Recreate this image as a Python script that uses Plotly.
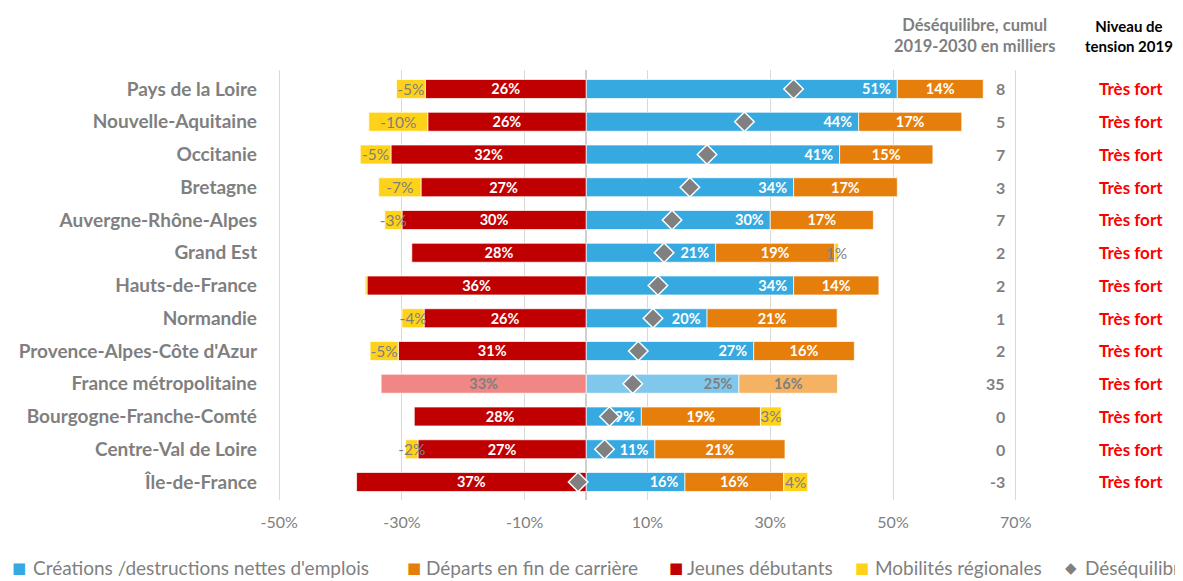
import plotly.graph_objects as go

regions = ["Pays de la Loire", "Nouvelle-Aquitaine", "Occitanie", "Bretagne",
           "Auvergne-Rhône-Alpes", "Grand Est", "Hauts-de-France", "Normandie",
           "Provence-Alpes-Côte d'Azur", "France métropolitaine",
           "Bourgogne-Franche-Comté", "Centre-Val de Loire", "Île-de-France"]
creations = [50.7, 44.4, 41.3, 33.8, 30.0, 21.1, 33.8, 19.7, 27.3, 24.9, 9.0, 11.2, 16.1]
departs = [14.0, 16.8, 15.2, 16.9, 16.8, 19.4, 13.9, 21.2, 16.4, 16.1, 19.4, 21.2, 16.1]
jeunes = [-26.2, -25.8, -31.8, -26.9, -30.0, -28.4, -35.7, -26.4, -30.6, -33.4, -28.0, -27.4, -37.4]
mobilites = [-4.7, -9.6, -5.0, -6.9, -2.8, 0.6, -0.3, -3.6, -4.6, 0.0, 3.4, -2.0, 3.9]
desequilibre_milliers = ["8", "5", "7", "3", "7", "2", "2", "1", "2", "35", "0", "0", "-3"]
tension = ["Très fort"] * 13
x_ticks = [-50, -30, -10, 10, 30, 50, 70]
x_ticktext = ["-50%", "-30%", "-10%", "10%", "30%", "50%", "70%"]

FONT = "Lato"
GRAY = "#7f7f7f"
FR = "France métropolitaine"

C_BLUE, C_ORANGE, C_RED, C_YELLOW, C_DIAM = "#36A9E1", "#E67E0B", "#C00000", "#FFD21A", "#808080"

desequilibre_pct = [c + d + j + m for c, d, j, m in zip(creations, departs, jeunes, mobilites)]

# page offset (body margin) and target plot area in screen pixels
OFF = 8
W, H = 1183 - OFF, 581 - OFF
L, R, T, B = 278 - OFF, 1017 - OFF, 70 - OFF, 500 - OFF


def px_x(p):
    return (p - OFF - L) / (R - L)


def px_y(p):
    return (B - (p - OFF)) / (B - T)


def colors(base, light):
    return [light if r == FR else base for r in regions]


def txtcol(base):
    return [GRAY if r == FR else base for r in regions]


fig = go.Figure()
bar_common = dict(orientation="h", y=regions, textposition="inside", textangle=0,
                  constraintext="none",
                  marker_line=dict(color="rgba(255,255,255,0.7)", width=1),
                  showlegend=False)

fig.add_trace(go.Bar(
    name="Créations /destructions nettes d'emplois", x=creations,
    text=[f"{v:.0f}%\u00a0" for v in creations], insidetextanchor="end",
    marker_color=colors(C_BLUE, "#80C7EC"),
    textfont=dict(color=txtcol("white"), family=FONT, size=14.5, weight="bold"),
    **bar_common))
fig.add_trace(go.Bar(
    name="Départs en fin de carrière", x=departs,
    text=[f"{v:.0f}%" for v in departs], insidetextanchor="middle",
    marker_color=colors(C_ORANGE, "#F5B263"),
    textfont=dict(color=txtcol("white"), family=FONT, size=14.5, weight="bold"),
    **bar_common))
fig.add_trace(go.Bar(
    name="Jeunes débutants", x=jeunes,
    text=[f"{abs(v):.0f}%" for v in jeunes], insidetextanchor="middle",
    marker_color=colors(C_RED, "#F08784"),
    textfont=dict(color=txtcol("white"), family=FONT, size=14.5, weight="bold"),
    **bar_common))
fig.add_trace(go.Bar(
    name="Mobilités régionales", x=mobilites,
    text=[(f"{v:.0f}%" if round(v) != 0 else "") for v in mobilites], insidetextanchor="middle",
    marker_color=C_YELLOW,
    textfont=dict(color=GRAY, family=FONT, size=15.5),
    **bar_common))
fig.add_trace(go.Scatter(
    name="Déséquilibre", x=desequilibre_pct, y=regions, mode="markers", showlegend=False,
    marker=dict(symbol="diamond", size=15, color=C_DIAM, line=dict(color="white", width=1.5))))

# right-hand columns
for r, d, t in zip(regions, desequilibre_milliers, tension):
    fig.add_annotation(x=px_x(1007), xref="paper", y=r, yref="y", text=d,
                       xanchor="right", showarrow=False,
                       font=dict(family=FONT, size=16, color=GRAY, weight="bold"))
    fig.add_annotation(x=px_x(1131), xref="paper", y=r, yref="y", text=t,
                       xanchor="center", showarrow=False,
                       font=dict(family=FONT, size=17, color="#FF0000", weight="bold"))

fig.add_annotation(x=px_x(974), xref="paper", y=px_y(36), yref="paper",
                   text="Déséquilibre, cumul<br>2019-2030 en milliers", showarrow=False,
                   xanchor="center", yanchor="middle", align="center",
                   font=dict(family=FONT, size=16.5, color=GRAY, weight="bold"))
fig.add_annotation(x=px_x(1129), xref="paper", y=px_y(36), yref="paper",
                   text="Niveau de<br>tension 2019", showarrow=False,
                   xanchor="center", yanchor="middle", align="center",
                   font=dict(family=FONT, size=15, color="black", weight="bold"))

# legend (drawn as text so that it keeps a single row like the reference)
legend_items = [
    ("■", C_BLUE, 19, "Créations /destructions nettes d'emplois", 31),
    ("■", C_ORANGE, 414, "Départs en fin de carrière", 424),
    ("■", C_RED, 676, "Jeunes débutants", 685),
    ("■", C_YELLOW, 862, "Mobilités régionales", 873),
    ("◆", C_DIAM, 1071, "Déséquilibre", 1083),
]
LEG_Y = 567
for sym, col, sx, label, tx in legend_items:
    fig.add_annotation(x=px_x(sx), xref="paper", y=px_y(LEG_Y + 1), yref="paper", text=sym,
                       xanchor="center", yanchor="middle", showarrow=False,
                       font=dict(family="DejaVu Sans", size=15, color=col))
    fig.add_annotation(x=px_x(tx), xref="paper", y=px_y(LEG_Y), yref="paper", text=label,
                       xanchor="left", yanchor="middle", showarrow=False,
                       font=dict(family=FONT, size=19, color=GRAY))

fig.update_layout(
    width=W, height=H,
    margin=dict(l=L, r=W - R, t=T, b=H - B, autoexpand=False),
    barmode="relative", bargap=0.42,
    plot_bgcolor="white", paper_bgcolor="white",
    font=dict(family=FONT, color=GRAY),
    showlegend=False,
    xaxis=dict(range=[-50.2, 70.2], tickvals=x_ticks, ticktext=x_ticktext,
               showgrid=True, gridcolor="#d9d9d9", gridwidth=1,
               zeroline=True, zerolinecolor="#d0d0d0", zerolinewidth=1.5,
               tickfont=dict(family=FONT, size=16, color=GRAY),
               ticklabelstandoff=11, fixedrange=True, automargin=False),
    yaxis=dict(categoryorder="array", categoryarray=regions,
               range=[12.55, -0.58], showgrid=False,
               tickfont=dict(family=FONT, size=19, color=GRAY, weight="bold"),
               ticklabelstandoff=20, fixedrange=True, automargin=False),
)

fig.write_html("out.html")
